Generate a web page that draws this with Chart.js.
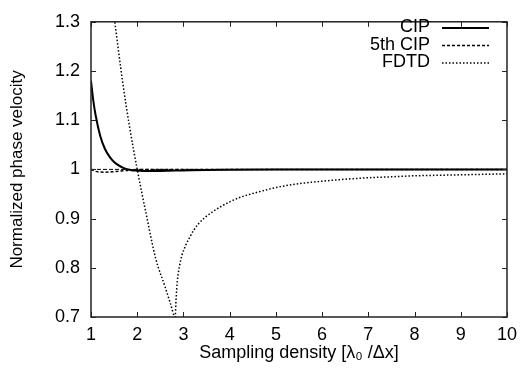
<!DOCTYPE html>
<html>
<head>
<meta charset="utf-8">
<script src="https://cdn.jsdelivr.net/npm/chart.js@4.4.1/dist/chart.umd.min.js"></script>
<style>
  body { margin: 0; background: #fff; }
</style>
</head>
<body>
<canvas id="phaseChart" width="524" height="374"></canvas>
<script>
// values
let cipX = [1, 1.05, 1.1, 1.2, 1.3, 1.4, 1.5, 1.6, 1.7, 1.8, 1.9, 2, 2.2, 2.5, 3, 3.5, 4, 5, 6, 8, 10];
let cipY = [1.18, 1.14, 1.11, 1.068, 1.042, 1.026, 1.015, 1.008, 1.003, 1.0, 0.998, 0.9975, 0.9968, 0.997, 0.998, 0.999, 0.9995, 1, 1, 1, 1];

let cip5X = [1, 1.1, 1.2, 1.3, 1.45, 1.6, 1.8, 2, 2.5, 4, 10];
let cip5Y = [1.0, 0.996, 0.9945, 0.9943, 0.995, 0.9965, 0.998, 0.9995, 1, 1, 1];

let fdtdX = [1, 1.25, 1.5, 1.69, 1.83, 2, 2.19, 2.4, 2.6, 2.72, 2.82, 2.84, 2.87, 2.92, 2.97, 3.05, 3.12, 3.22, 3.33, 3.45, 3.6, 3.8, 4, 4.25, 4.5, 5, 5.5, 6, 6.5, 7, 7.5, 8, 8.5, 9, 9.5, 10];
let fdtdY = [1.68, 1.49, 1.31, 1.174, 1.089, 1.0, 0.911, 0.819, 0.762, 0.727, 0.70, 0.735, 0.775, 0.806, 0.826, 0.846, 0.859, 0.876, 0.89, 0.901, 0.912, 0.924, 0.934, 0.944, 0.951, 0.963, 0.971, 0.976, 0.98, 0.983, 0.985, 0.987, 0.988, 0.989, 0.990, 0.991];

let refX = [1, 10];
let refY = [1, 1];

let xTicks = [1, 2, 3, 4, 5, 6, 7, 8, 9, 10];
let yTicks = [0.7, 0.8, 0.9, 1.0, 1.1, 1.2, 1.3];

function pts(xs, ys) {
    return xs.map((x, i) => ({ x: x, y: ys[i] }));
}

const font = { family: 'Liberation Sans, Arial, sans-serif', size: 18 };

// gnuplot-like frame with inward ticks and a legend whose text sits left of the sample
const framePlugin = {
    id: 'frame',
    afterDatasetsDraw(chart) {
        const ctx = chart.ctx;
        const a = chart.chartArea;
        const xs = chart.scales.x, ys = chart.scales.y;
        ctx.save();
        ctx.strokeStyle = '#222';
        ctx.lineWidth = 1.5;
        ctx.strokeRect(a.left, a.top, a.right - a.left, a.bottom - a.top);
        ctx.lineWidth = 1;
        ctx.beginPath();
        xTicks.forEach(v => {
            const px = Math.round(xs.getPixelForValue(v)) + 0.5;
            ctx.moveTo(px, a.bottom); ctx.lineTo(px, a.bottom - 5);
            ctx.moveTo(px, a.top); ctx.lineTo(px, a.top + 5);
        });
        yTicks.forEach(v => {
            const py = Math.round(ys.getPixelForValue(v)) + 0.5;
            ctx.moveTo(a.left, py); ctx.lineTo(a.left + 5, py);
            ctx.moveTo(a.right, py); ctx.lineTo(a.right - 5, py);
        });
        ctx.stroke();

        // legend
        ctx.font = font.size + 'px ' + font.family;
        ctx.fillStyle = '#000';
        ctx.textAlign = 'right';
        ctx.textBaseline = 'middle';
        let row = 0;
        chart.data.datasets.forEach(ds => {
            if (!ds.label) return;
            const y = 27.5 + row * 17.5;
            ctx.fillText(ds.label, 430, y);
            ctx.beginPath();
            ctx.strokeStyle = ds.borderColor;
            ctx.lineWidth = ds.borderWidth;
            ctx.setLineDash(ds.borderDash || []);
            ctx.moveTo(442, y + 0.5);
            ctx.lineTo(489, y + 0.5);
            ctx.stroke();
            ctx.setLineDash([]);
            row++;
        });
        ctx.restore();
    }
};

let ctx = document.getElementById('phaseChart').getContext('2d');
let chart = new Chart(ctx, {
    type: 'line',
    data: {
        datasets: [
            {
                label: 'CIP',
                data: pts(cipX, cipY),
                borderColor: '#000',
                borderWidth: 2,
                cubicInterpolationMode: 'monotone'
            },
            {
                label: '5th CIP',
                data: pts(cip5X, cip5Y),
                borderColor: '#000',
                borderWidth: 1.5,
                borderDash: [3, 2],
                cubicInterpolationMode: 'monotone'
            },
            {
                label: 'FDTD',
                data: pts(fdtdX, fdtdY),
                borderColor: '#000',
                borderWidth: 1.5,
                borderDash: [1.5, 2],
                cubicInterpolationMode: 'monotone'
            },
            {
                label: '',
                data: pts(refX, refY),
                borderColor: '#000',
                borderWidth: 1,
                borderDash: [4, 2]
            }
        ]
    },
    options: {
        responsive: false,
        animation: false,
        layout: { padding: { top: 13, right: 12, left: 0, bottom: 0 } },
        elements: { point: { radius: 0 } },
        plugins: {
            legend: { display: false },
            tooltip: { enabled: false }
        },
        scales: {
            x: {
                type: 'linear',
                min: 1,
                max: 10,
                afterBuildTicks: s => { s.ticks = xTicks.map(v => ({ value: v })); },
                ticks: { color: '#000', font: font, padding: 7, maxRotation: 0 },
                grid: { display: false, drawTicks: false },
                border: { display: false },
                title: {
                    display: true,
                    text: 'Sampling density [λ₀ /Δx]',
                    color: '#000',
                    font: font,
                    padding: { top: 0, bottom: 10 }
                },
                afterFit: s => { s.height = 57; }
            },
            y: {
                min: 0.7,
                max: 1.3,
                afterBuildTicks: s => { s.ticks = yTicks.map(v => ({ value: v })); },
                ticks: {
                    color: '#000',
                    font: font,
                    padding: 11,
                    callback: v => String(Number(v.toFixed(1)))
                },
                grid: { display: false, drawTicks: false },
                border: { display: false },
                title: {
                    display: true,
                    text: 'Normalized phase velocity',
                    color: '#000',
                    font: { family: font.family, size: 17 },
                    padding: { top: 7, bottom: 0 }
                },
                afterFit: s => { s.width = 91; }
            }
        }
    },
    plugins: [framePlugin]
});
</script>
</body>
</html>
